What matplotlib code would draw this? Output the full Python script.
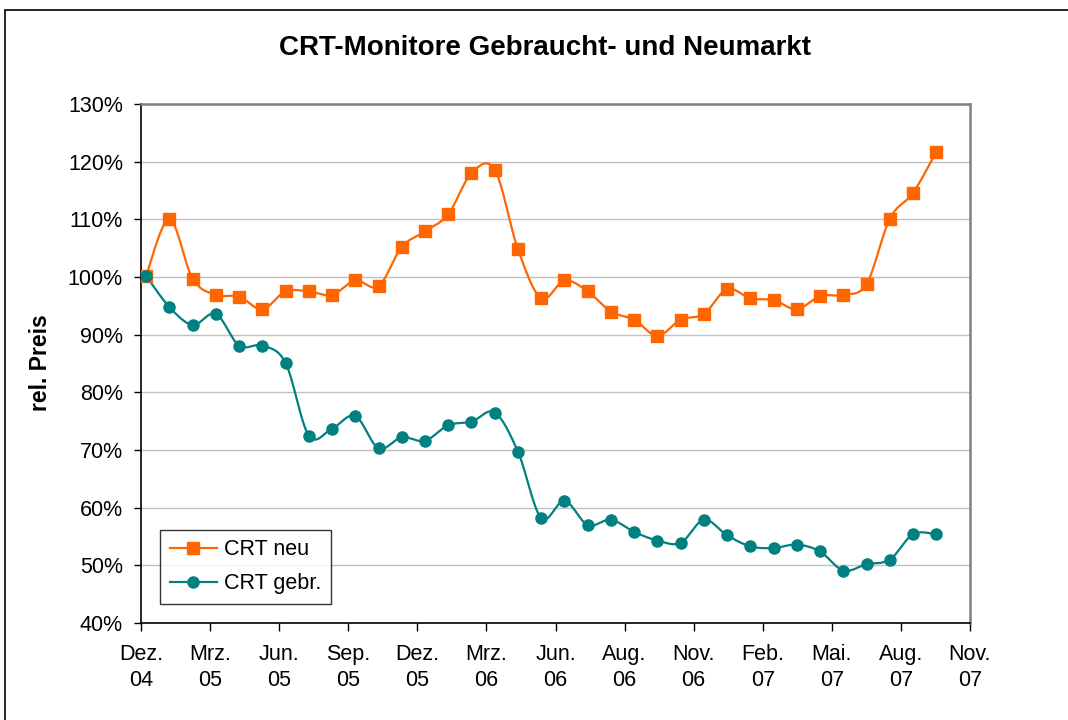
import numpy as np
import matplotlib
matplotlib.use("Agg")
import matplotlib.pyplot as plt
import matplotlib.patches as patches
from matplotlib.lines import Line2D

plt.rcParams['font.family'] = ['Liberation Sans', 'DejaVu Sans']

# data: monthly relative price, Dez. 04 = 100 %
months = np.arange(35)
crt_neu = [100.2, 110.0, 99.7, 96.9, 96.6, 94.4, 97.5, 97.5, 96.9, 99.4,
           98.4, 105.2, 107.9, 110.9, 118.0, 118.6, 104.8, 96.3, 99.4, 97.5,
           94.0, 92.6, 89.8, 92.6, 93.6, 97.9, 96.3, 96.0, 94.4, 96.7,
           96.9, 98.8, 110.1, 114.6, 121.7]
crt_gebr = [100.2, 94.8, 91.7, 93.6, 88.1, 88.1, 85.1, 72.5, 73.7, 75.9,
            70.3, 72.2, 71.6, 74.3, 74.9, 76.5, 69.7, 58.2, 61.2, 57.0,
            57.9, 55.8, 54.3, 53.9, 57.9, 55.2, 53.3, 53.0, 53.6, 52.4,
            49.1, 50.2, 51.0, 55.4, 55.4]
tick_labels = ["Dez.\n04", "Mrz.\n05", "Jun.\n05", "Sep.\n05", "Dez.\n05",
               "Mrz.\n06", "Jun.\n06", "Aug.\n06", "Nov.\n06", "Feb.\n07",
               "Mai.\n07", "Aug.\n07", "Nov.\n07"]

ORANGE = '#FF6600'
TEAL = '#008080'


def smooth(x, y, n=20):
    # excel-like smoothed line: cubic bezier with catmull-rom control points
    p = np.column_stack([x, y]).astype(float)
    p_ext = np.vstack([p[0], p, p[-1]])
    t = np.linspace(0, 1, n, endpoint=False)[:, None]
    out = []
    for i in range(len(p) - 1):
        p0, p1, p2, p3 = p_ext[i], p_ext[i + 1], p_ext[i + 2], p_ext[i + 3]
        c1 = p1 + (p2 - p0) / 6
        c2 = p2 - (p3 - p1) / 6
        seg = ((1 - t) ** 3 * p1 + 3 * (1 - t) ** 2 * t * c1
               + 3 * (1 - t) * t ** 2 * c2 + t ** 3 * p2)
        out.append(seg)
    out.append(p[-1][None, :])
    out = np.vstack(out)
    return out[:, 0], out[:, 1]


fig = plt.figure(figsize=(10.68, 7.2), dpi=100)
ax = fig.add_axes([141 / 1068, 1 - 623 / 720, 829 / 1068, 519 / 720])

# chart border
fig.patches.append(patches.Rectangle((5 / 1068, -0.1), 1.2, 1.1 - 10 / 720,
                                     transform=fig.transFigure, fill=False,
                                     edgecolor='black', linewidth=1.2))

for vals, col, mk, ms in [(crt_neu, ORANGE, 's', 8.5), (crt_gebr, TEAL, 'o', 8)]:
    sx, sy = smooth(months, vals)
    ax.plot(sx, sy, color=col, lw=1.6, zorder=3)
    ax.plot(months, vals, ls='none', marker=mk, ms=ms, color=col, zorder=4)

x0, x1 = -0.22, 35.45
ax.set_xlim(x0, x1)
ax.set_ylim(40, 130)
ax.set_xticks(np.linspace(x0, x1, 13))
ax.set_xticklabels(tick_labels, fontsize=15.5, linespacing=1.35)
ax.set_yticks(np.arange(40, 131, 10))
ax.set_yticklabels([f"{v}%" for v in range(40, 131, 10)], fontsize=15.5)
ax.tick_params(axis='x', direction='out', length=6, width=1, pad=9)
ax.tick_params(axis='y', direction='out', length=5, width=1, pad=8)
ax.grid(axis='y', color='#c0c0c0', lw=1)
ax.set_axisbelow(True)
for s in ['left', 'bottom']:
    ax.spines[s].set_color('black')
    ax.spines[s].set_linewidth(1.2)
for s in ['top', 'right']:
    ax.spines[s].set_color('#808080')
    ax.spines[s].set_linewidth(1.8)

fig.text(545 / 1068, 1 - 48 / 720, "CRT-Monitore Gebraucht- und Neumarkt",
         ha='center', va='center', fontsize=20, fontweight='bold')
fig.text(41 / 1068, 1 - 363 / 720, "rel. Preis", rotation=90,
         ha='center', va='center', fontsize=16.5, fontweight='bold')

handles = [Line2D([], [], color=ORANGE, lw=1.6, marker='s', ms=8.5),
           Line2D([], [], color=TEAL, lw=1.6, marker='o', ms=8)]
leg = ax.legend(handles, ["CRT neu", "CRT gebr."], loc='lower left',
                bbox_to_anchor=(0.023, 0.037), borderaxespad=0,
                fontsize=15.5, frameon=True, fancybox=False, handlelength=2.2,
                handletextpad=0.3, labelspacing=0.6, borderpad=0.45)
leg.get_frame().set_edgecolor('black')
leg.get_frame().set_linewidth(1)

fig.savefig("out.png", dpi=100)
